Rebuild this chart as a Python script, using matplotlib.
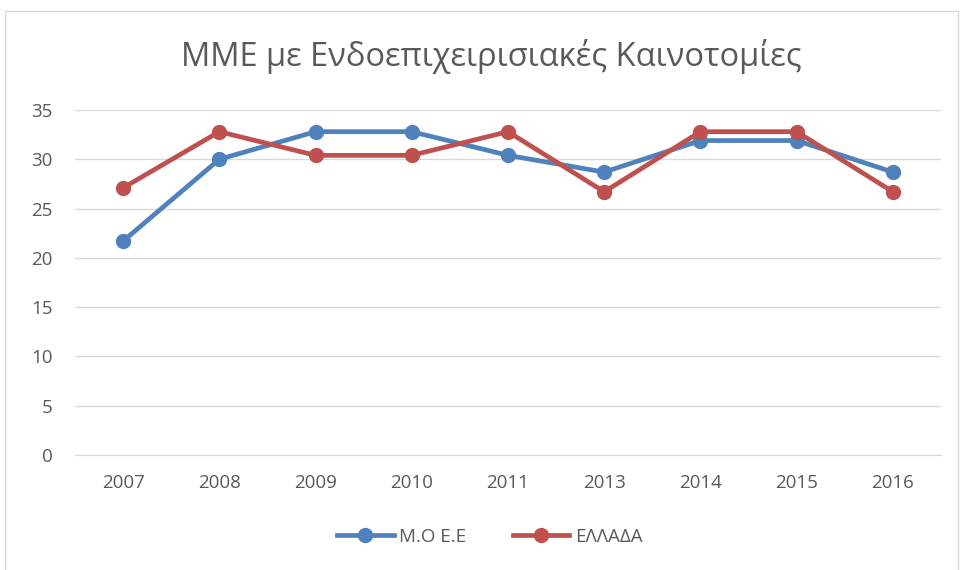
import matplotlib
matplotlib.use("Agg")
import matplotlib.pyplot as plt
from matplotlib.patches import Rectangle

years = ["2007", "2008", "2009", "2010", "2011", "2013", "2014", "2015", "2016"]
eu_avg = [21.7, 30.0, 32.8, 32.8, 30.4, 28.7, 31.9, 31.9, 28.7]
greece = [27.1, 32.8, 30.4, 30.4, 32.8, 26.7, 32.8, 32.8, 26.7]
yticks = [0, 5, 10, 15, 20, 25, 30, 35]

plt.rcParams['font.family'] = ['Open Sans', 'DejaVu Sans']

W, H = 961, 570
fig = plt.figure(figsize=(W / 100, H / 100), dpi=100)
fig.patch.set_facecolor("white")
fig.patches.append(Rectangle((5 / W, -0.01), (958 - 5) / W, 1 - 11 / H + 0.01,
                             transform=fig.transFigure, fill=False,
                             edgecolor="#D9D9D9", linewidth=1))

ax = fig.add_axes([75 / W, 1 - 455 / H, (941 - 75) / W, (455 - 110) / H])
x = list(range(len(years)))
ax.plot(x, eu_avg, color="#4F81BD", lw=3.4, marker="o", ms=10, label="Μ.Ο Ε.Ε",
        solid_joinstyle="round")
ax.plot(x, greece, color="#C0504D", lw=3.4, marker="o", ms=10, label="ΕΛΛΑΔΑ",
        solid_joinstyle="round")

ax.set_xlim(-0.5, len(years) - 0.5)
ax.set_ylim(0, 35)
ax.set_yticks(yticks)
ax.set_xticks(x)
ax.set_xticklabels(years)
ax.grid(axis="y", color="#D9D9D9", lw=1)
ax.set_axisbelow(True)
for s in ["top", "right", "left"]:
    ax.spines[s].set_visible(False)
ax.spines["bottom"].set_color("#D9D9D9")
ax.tick_params(axis="both", length=0, labelsize=13.5, colors="#595959")
ax.tick_params(axis="x", pad=14)
ax.tick_params(axis="y", pad=16)

fig.text(491 / W, 1 - 57 / H, "ΜΜΕ με Ενδοεπιχειρισιακές Καινοτομίες",
         ha="center", va="center", fontsize=23.5, color="#595959")

leg = fig.legend(loc="center", bbox_to_anchor=(490 / W, 1 - 537 / H), ncol=2,
                 frameon=False, fontsize=13.5, handlelength=3, columnspacing=2.5,
                 handletextpad=0.3)
for t in leg.get_texts():
    t.set_color("#595959")

fig.savefig("out.png", dpi=100)
